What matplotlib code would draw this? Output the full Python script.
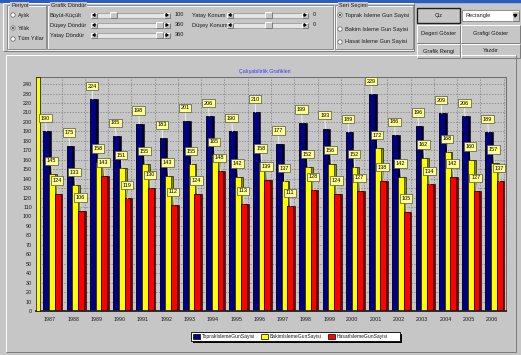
import matplotlib
matplotlib.use("Agg")
import matplotlib.pyplot as plt
from matplotlib.patches import Rectangle, Circle, Polygon

# yearly day counts per work type
years = ["1987", "1988", "1989", "1990", "1991", "1992", "1993", "1994", "1995", "1996",
         "1997", "1998", "1999", "2000", "2001", "2002", "2003", "2004", "2005", "2006"]
toprak = [190, 175, 224, 185, 198, 183, 201, 206, 190, 210,
          177, 199, 193, 189, 229, 186, 196, 209, 206, 189]
bakim = [145, 133, 158, 151, 155, 143, 155, 165, 142, 158,
         137, 152, 156, 152, 172, 142, 162, 168, 160, 157]
hasat = [124, 106, 143, 119, 130, 112, 124, 148, 113, 139,
         111, 128, 124, 127, 138, 105, 134, 142, 127, 137]
seriesNames = ["ToprakIslemeGunSayisi", "BakimIslemeGunSayisi", "HasatIslemeGunSayisi"]
yTicks = list(range(0, 250, 10))

W, H = 521, 355
BG = "#c6c6c6"
FS = 4.1

plt.rcParams['font.family'] = ['Liberation Sans', 'DejaVu Sans']

fig = plt.figure(figsize=(W / 100, H / 100), dpi=100)
fig.patch.set_facecolor(BG)

# the form itself, drawn in pixel coordinates
ui = fig.add_axes([0, 0, 1, 1], zorder=0)
ui.set_xlim(0, W)
ui.set_ylim(H, 0)
ui.axis("off")


def box(x0, y0, x1, y1, fc="none", ec="black", lw=0.6, z=1):
    ui.add_patch(Rectangle((x0, y0), x1 - x0, y1 - y0, facecolor=fc,
                           edgecolor=ec, linewidth=lw, zorder=z))


def line(xs, ys, c, lw=0.7, z=2):
    ui.plot(xs, ys, color=c, lw=lw, solid_capstyle="butt", zorder=z)


def bevel(x0, y0, x1, y1, raised=True, z=2):
    light, dark = ("white", "#7a7a7a") if raised else ("#7a7a7a", "white")
    line([x0, x1], [y0, y0], light, z=z)
    line([x0, x0], [y0, y1], light, z=z)
    line([x0, x1], [y1, y1], dark, z=z)
    line([x1, x1], [y0, y1], dark, z=z)


def label(x, y, s, ha="left", **kw):
    ui.text(x, y, s, ha=ha, va="center", fontsize=FS, color="#1a1a1a", zorder=5, **kw)


def groupBox(x0, y0, x1, y1, title):
    box(x0 + 0.8, y0 + 0.8, x1 + 0.8, y1 + 0.8, ec="white", lw=0.6)
    box(x0, y0, x1, y1, ec="#808080", lw=0.6)
    label(x0 + 4, y0 + 0.5, title,
          bbox=dict(boxstyle="square,pad=0.15", fc=BG, ec="none"))


def button(x0, y0, x1, y1, text="", default=False):
    box(x0, y0, x1, y1, fc=BG, ec="none", z=2)
    bevel(x0, y0, x1, y1, z=3)
    if default:
        box(x0, y0, x1, y1, ec="#202020", lw=1.0, z=4)
    if text:
        label((x0 + x1) / 2, (y0 + y1) / 2, text, ha="center")


def radio(x, y, text, checked=False):
    ui.add_patch(Circle((x, y), 2.2, facecolor="white", edgecolor="#707070", lw=0.6, zorder=3))
    if checked:
        ui.add_patch(Circle((x, y), 0.9, facecolor="black", edgecolor="none", zorder=4))
    label(x + 5, y, text)


def slider(x0, x1, y, thumb, value):
    box(x0, y - 2.5, x1, y + 2.5, fc="#e4e4e4", ec="#909090", lw=0.5, z=2)
    button(x0, y - 2.5, x0 + 6, y + 2.5)
    button(x1 - 6, y - 2.5, x1, y + 2.5)
    ui.add_patch(Polygon([[x0 + 4, y - 1.3], [x0 + 4, y + 1.3], [x0 + 2, y]],
                         color="black", zorder=5))
    ui.add_patch(Polygon([[x1 - 4, y - 1.3], [x1 - 4, y + 1.3], [x1 - 2, y]],
                         color="black", zorder=5))
    button(thumb - 3.5, y - 3, thumb + 3.5, y + 3)
    label(x1 + 5, y, value)


# window title bar edge
ui.add_patch(Rectangle((0, 0), W, 2.2, color="#2a5cc4", zorder=1))

# top control strip
bevel(3, 3, 414, 51)

groupBox(7, 5, 46, 49, "Periyot")
radio(13, 15, "Aylık")
radio(13, 28, "Yıllık", checked=True)
radio(13, 39, "Tüm Yıllar")

groupBox(47, 5, 333, 49, "Grafik Döndür")
label(50, 15, "Büyüt-Küçült")
label(50, 25, "Düşey Döndür")
label(50, 35, "Yatay Döndür")
slider(91, 170, 15, 113.5, "100")
slider(91, 170, 25, 159, "360")
slider(91, 170, 35, 159, "360")
label(192, 15, "Yatay Konum")
label(192, 25, "Düşey Konum")
slider(227, 308, 15, 268.5, "0")
slider(227, 308, 25, 268.5, "0")

groupBox(335, 5, 413, 49, "Seri Seçimi")
radio(340, 15, "Toprak Isleme Gun Sayisi", checked=True)
radio(340, 29, "Bakim Isleme Gun Sayisi")
radio(340, 42, "Hasat Isleme Gun Sayisi")

button(417, 8, 460, 23, "Çiz", default=True)
box(462, 10, 519, 21, fc="white", ec="#808080", lw=0.6, z=2)
label(465, 15.5, "Rectangle")
button(512, 11, 518.5, 20.5)
ui.add_patch(Polygon([[513.7, 14.5], [516.8, 14.5], [515.25, 17]], color="black", zorder=5))
button(417, 25, 460, 43, "Degeri Göster")
button(461, 25, 520, 43, "Grafigi Göster")
button(417, 44, 460, 58, "Grafik Rengi")
button(461, 44, 520, 58, "Yazdır")

# chart panel
bevel(6, 55, 516, 352)
ui.text(265, 71, "Çalışabilirlik Grafikleri", ha="center", va="center",
        fontsize=3.8, color="#3a3aff", zorder=5)

# legend
box(193, 334.3, 402, 342.7, fc="black", ec="none", z=3)
box(191, 332.3, 400, 340.7, fc="white", ec="black", lw=0.6, z=4)
colors = ["#000080", "#ffff00", "#ff0000"]
legendX = [193, 261, 328]
for lx, col, name in zip(legendX, colors, seriesNames):
    box(lx, 334, lx + 7, 339, fc=col, ec="black", lw=0.5, z=5)
    ui.text(lx + 9, 336.6, name, ha="left", va="center", fontsize=3.6,
            color="#1a1a1a", zorder=6)

# the bar chart
ax = fig.add_axes([36 / W, 1 - 311 / H, 470 / W, 234 / H], zorder=1)
ax.set_facecolor("none")
ax.set_xlim(-0.6, 19.6)
ax.set_ylim(0, 247.5)

for gy in yTicks[1:]:
    ax.axhline(gy, color="#7c7c7c", lw=0.5, ls=(0, (2, 2)), zorder=0)
for i in range(len(years)):
    ax.axvline(i + 0.5, color="#7c7c7c", lw=0.5, ls=(0, (2, 2)), zorder=0)

xs = list(range(len(years)))
barW = 0.25
sideW = 0.08
offsets = [-0.16, 0.09, 0.33]
sideColors = ["#000020", "#8a8a00", "#800000"]
allSeries = [toprak, bakim, hasat]
for series, off, col, side in zip(allSeries, offsets, colors, sideColors):
    px = [x + off for x in xs]
    ax.bar([p + sideW / 2 for p in px], series, width=barW + sideW, color=side,
           edgecolor="black", linewidth=0.4, zorder=2)
    ax.bar(px, series, width=barW, color=col, edgecolor="black", linewidth=0.4, zorder=2)
    for p, v in zip(px, series):
        ax.annotate(str(v), xy=(p, v), xytext=(-0.5, 9.5), textcoords="offset points",
                    ha="center", va="center", fontsize=4.0, color="black", zorder=6,
                    bbox=dict(boxstyle="square,pad=0.3", fc="#ffff90", ec="#505050", lw=0.5),
                    arrowprops=dict(arrowstyle="-", color="#f4f4f4", lw=0.6,
                                    shrinkA=0, shrinkB=0))

# left wall of the chart
ax.add_patch(Rectangle((0, 0), 4 / 470, 1, transform=ax.transAxes, facecolor="#ffff00",
                       edgecolor="black", linewidth=0.5, zorder=3, clip_on=False))

ax.set_yticks(yTicks)
ax.set_yticklabels([str(t) for t in yTicks])
ax.set_xticks(xs)
ax.set_xticklabels(years)
ax.tick_params(axis="both", length=0, labelsize=3.9, colors="#1a1a1a")
ax.tick_params(axis="y", pad=3)
ax.tick_params(axis="x", pad=4)
for s in ["top", "right"]:
    ax.spines[s].set_color("#6a6a6a")
    ax.spines[s].set_linewidth(0.7)
ax.spines["left"].set_visible(False)
ax.spines["bottom"].set_color("#202020")
ax.spines["bottom"].set_linewidth(1.3)

fig.savefig("out.png", dpi=100, facecolor=BG)
